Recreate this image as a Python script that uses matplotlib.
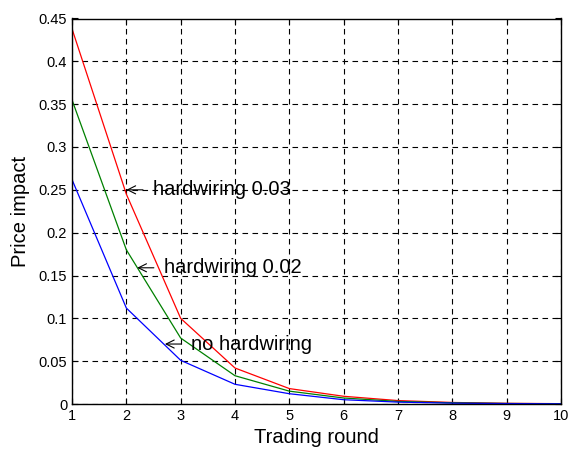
import numpy as np
import matplotlib.pyplot as plt
from matplotlib.ticker import FuncFormatter

plt.rcParams['font.family'] = ['Liberation Sans', 'DejaVu Sans']

# trading rounds and price impact per hardwiring level
rounds = [1, 2, 3, 4, 5, 6, 7, 8, 9, 10]
hard_003 = [0.438, 0.245, 0.100, 0.042, 0.018, 0.009, 0.004, 0.0018, 0.0008, 0.0004]
hard_002 = [0.355, 0.180, 0.077, 0.033, 0.015, 0.007, 0.003, 0.0014, 0.0006, 0.0003]
no_hard = [0.262, 0.112, 0.051, 0.023, 0.012, 0.005, 0.0022, 0.0010, 0.0005, 0.0002]

fig = plt.figure(figsize=(5.7, 4.51), dpi=100)
ax = fig.add_axes([72/570, 1 - 404/451, (561-72)/570, (404-18.5)/451])

ax.plot(rounds, hard_003, color='red', lw=0.9)
ax.plot(rounds, hard_002, color='green', lw=0.9)
ax.plot(rounds, no_hard, color='blue', lw=0.9)

ax.set_xlim(1, 10)
ax.set_ylim(0, 0.45)
ax.set_xticks(range(1, 11))
ax.set_yticks(np.arange(0, 0.451, 0.05))
ax.yaxis.set_major_formatter(FuncFormatter(lambda v, p: ('%.2f' % v).rstrip('0').rstrip('.')))
ax.tick_params(direction='in', labelsize=10.5, length=4, top=True, right=True)
ax.grid(True, color='black', linestyle=(0, (5, 4)), linewidth=0.8)
for s in ax.spines.values():
    s.set_linewidth(1.0)

ax.set_xlabel('Trading round', fontsize=14.5, labelpad=4)
ax.set_ylabel('Price impact', fontsize=14.5, labelpad=6)

# labels with arrows, MATLAB style
labels = [('hardwiring 0.03', 2.0, 0.25),
          ('hardwiring 0.02', 2.2, 0.159),
          ('no hardwiring', 2.71, 0.07)]
for txt, x, y in labels:
    ax.annotate(txt, xy=(x, y), xytext=(19, 0), textcoords='offset points',
                fontsize=14.5, va='center', ha='left',
                arrowprops=dict(arrowstyle='->', lw=0.8, color='black',
                                shrinkA=5, shrinkB=0))

fig.savefig('out.png', dpi=100)
